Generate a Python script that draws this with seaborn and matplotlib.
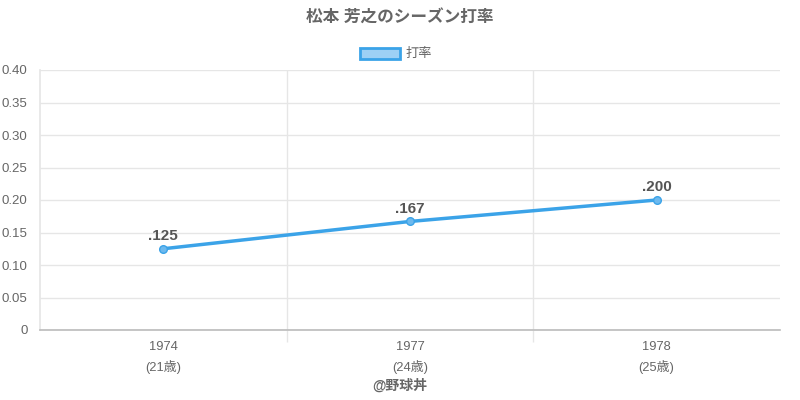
import matplotlib
matplotlib.use("Agg")
import matplotlib.pyplot as plt
import seaborn as sns
import pandas as pd
from matplotlib.patches import Rectangle

years = ["1974", "1977", "1978"]
ages = ["(21歳)", "(24歳)", "(25歳)"]
avg = [0.125, 0.167, 0.200]
avg_labels = [".125", ".167", ".200"]
yticks = [0, 0.05, 0.10, 0.15, 0.20, 0.25, 0.30, 0.35, 0.40]
ytick_labels = ["0", "0.05", "0.10", "0.15", "0.20", "0.25", "0.30", "0.35", "0.40"]

sns.set_theme(style="white")
plt.rcParams['font.family'] = ['Liberation Sans', 'Noto Sans CJK JP', 'DejaVu Sans']

df = pd.DataFrame({"pos": list(range(len(years))), "avg": avg})

fig = plt.figure(figsize=(8, 4), dpi=100)
ax = fig.add_axes([0.05, 0.175, 0.925, 0.65])

line_color = "#3BA3E8"
sns.lineplot(data=df, x="pos", y="avg", ax=ax, color=line_color, linewidth=2.5,
             marker="o", markersize=5.5, markerfacecolor="#6db9ee",
             markeredgecolor=line_color, markeredgewidth=1, zorder=5)

ax.set_xlim(-0.5, len(years) - 0.5)
ax.set_ylim(0, 0.40)
ax.set_yticks(yticks)
ax.set_yticklabels(ytick_labels)
ax.set_xticks(range(len(years)))
ax.set_xticklabels([f"{y}\n{a}" for y, a in zip(years, ages)], linespacing=1.6)
ax.set_xticks([i + 0.5 for i in range(len(years) - 1)], minor=True)
ax.set_xlabel("")
ax.set_ylabel("")

grid_c = "#e6e6e6"
ax.grid(True, axis="y", color=grid_c, linewidth=1)
ax.grid(True, axis="x", which="minor", color=grid_c, linewidth=1)
ax.grid(False, axis="x", which="major")
ax.tick_params(axis="x", which="major", length=0, pad=8, labelsize=9.3, labelcolor="#666666")
ax.tick_params(axis="x", which="minor", length=8.5, color=grid_c, width=1, direction="out")
ax.tick_params(axis="y", length=7, color=grid_c, width=1, labelsize=9.5, labelcolor="#666666", pad=2)
ax.tick_params(axis="x", which="both", bottom=True)

for s in ["top", "right"]:
    ax.spines[s].set_visible(False)
ax.spines["left"].set_color(grid_c)
ax.spines["bottom"].set_color("#bbbbbb")
ax.spines["bottom"].set_linewidth(1.2)

for i, (v, lab) in enumerate(zip(avg, avg_labels)):
    ax.annotate(lab, (i, v), xytext=(0, 4), textcoords="offset points",
                ha="center", va="bottom", fontsize=11, fontweight="bold", color="#555555")

fig.text(0.5, 1 - 18 / 400, "松本 芳之のシーズン打率", ha="center", va="center",
         fontsize=12, fontweight="bold", color="#666666")

# legend
fig.patches.append(Rectangle((360 / 800, 1 - 59 / 400), 40 / 800, 11 / 400,
                             transform=fig.transFigure, facecolor="#9dd0f5",
                             edgecolor=line_color, linewidth=2))
fig.text(406 / 800, 1 - 54 / 400, "打率", ha="left", va="center", fontsize=9.5, color="#666666")

fig.text(0.5, 1 - 386 / 400, "@野球丼", ha="center", va="center",
         fontsize=10, fontweight="bold", color="#666666")

fig.savefig("out.png", dpi=100)
